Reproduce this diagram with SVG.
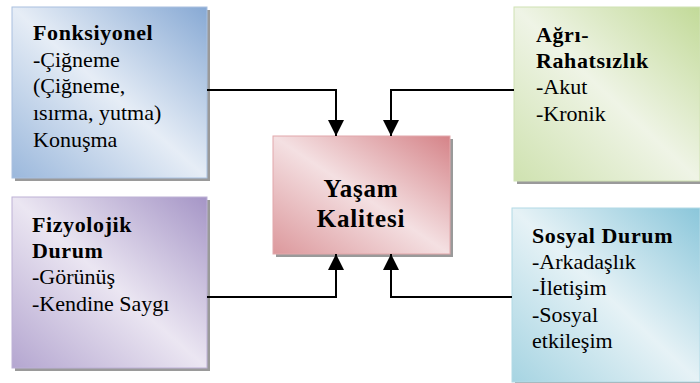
<svg xmlns="http://www.w3.org/2000/svg" width="700" height="383" viewBox="0 0 700 383">
<defs>
<linearGradient id="gBlue" x1="1" y1="0" x2="0" y2="1">
<stop offset="0" stop-color="#87a9d4"/><stop offset="0.5" stop-color="#e6edf6"/><stop offset="1" stop-color="#9bb8dc"/>
</linearGradient>
<linearGradient id="gGreen" x1="1" y1="0" x2="0" y2="1">
<stop offset="0" stop-color="#c2da98"/><stop offset="0.5" stop-color="#eff4e6"/><stop offset="1" stop-color="#cfe2b0"/>
</linearGradient>
<linearGradient id="gPurple" x1="1" y1="0" x2="0" y2="1">
<stop offset="0" stop-color="#a595c6"/><stop offset="0.5" stop-color="#ebe6f2"/><stop offset="1" stop-color="#b4a6d0"/>
</linearGradient>
<linearGradient id="gCyan" x1="1" y1="0" x2="0" y2="1">
<stop offset="0" stop-color="#8ac6da"/><stop offset="0.5" stop-color="#e6f2f6"/><stop offset="1" stop-color="#a6d4e2"/>
</linearGradient>
<linearGradient id="gPink" x1="1" y1="0" x2="0" y2="1">
<stop offset="0" stop-color="#d58388"/><stop offset="0.5" stop-color="#f4e0e2"/><stop offset="1" stop-color="#dc989c"/>
</linearGradient>
<marker id="arr" viewBox="0 0 16 16" refX="16" refY="8" markerWidth="16" markerHeight="16" markerUnits="userSpaceOnUse" orient="auto">
<path d="M0,0 L16,8 L0,16 Z" fill="#000"/>
</marker>
</defs>
<style>
.sh{fill:#9a9a9a;}
text{font-family:"Liberation Serif","Times New Roman",serif;font-size:22px;fill:#000;}
.b{font-weight:bold;letter-spacing:0.6px;}
.c{text-anchor:middle;font-size:25px;letter-spacing:0.8px;}
.ln{fill:none;stroke:#000;stroke-width:2;}
</style>
<rect width="700" height="383" fill="#fff"/>
<g id="fonksiyonel">
<rect class="sh" x="15" y="10" width="195" height="171"/>
<rect x="12" y="7" width="195" height="171" fill="url(#gBlue)" stroke="#a9c0e0"/>
<text x="33" y="40" class="b">Fonksiyonel</text>
<text x="33" y="67">-Çiğneme</text>
<text x="33" y="93">(Çiğneme,</text>
<text x="33" y="120">ısırma, yutma)</text>
<text x="33" y="147">Konuşma</text>
</g>
<g id="agri">
<rect class="sh" x="517" y="10" width="186" height="174"/>
<rect x="514" y="7" width="186" height="174" fill="url(#gGreen)" stroke="#d0e2b4"/>
<text x="536" y="42" class="b">Ağrı-</text>
<text x="536" y="68" class="b">Rahatsızlık</text>
<text x="536" y="94">-Akut</text>
<text x="536" y="121">-Kronik</text>
</g>
<g id="fizyolojik">
<rect class="sh" x="15" y="200" width="195" height="171"/>
<rect x="12" y="197" width="195" height="171" fill="url(#gPurple)" stroke="#bdb1d6"/>
<text x="32" y="232" class="b">Fizyolojik</text>
<text x="32" y="258" class="b">Durum</text>
<text x="32" y="284">-Görünüş</text>
<text x="32" y="311">-Kendine Saygı</text>
</g>
<g id="sosyal">
<rect class="sh" x="515" y="211" width="188" height="174"/>
<rect x="512" y="208" width="188" height="174" fill="url(#gCyan)" stroke="#b2dae6"/>
<text x="532" y="243" class="b">Sosyal Durum</text>
<text x="532" y="269">-Arkadaşlık</text>
<text x="532" y="295">-İletişim</text>
<text x="532" y="322">-Sosyal</text>
<text x="532" y="348">etkileşim</text>
</g>
<g id="yasam">
<rect class="sh" x="276" y="139" width="177" height="118"/>
<rect x="273" y="136" width="177" height="118" fill="url(#gPink)" stroke="#e2a8ab"/>
<text x="361" y="197" class="b c">Yaşam</text>
<text x="361" y="227" class="b c">Kalitesi</text>
</g>
<g id="connectors">
<path class="ln" d="M207,90 H336 V136" marker-end="url(#arr)"/>
<path class="ln" d="M514,90 H391 V136" marker-end="url(#arr)"/>
<path class="ln" d="M207,297 H336 V254" marker-end="url(#arr)"/>
<path class="ln" d="M512,297 H391 V254" marker-end="url(#arr)"/>
</g>
</svg>
